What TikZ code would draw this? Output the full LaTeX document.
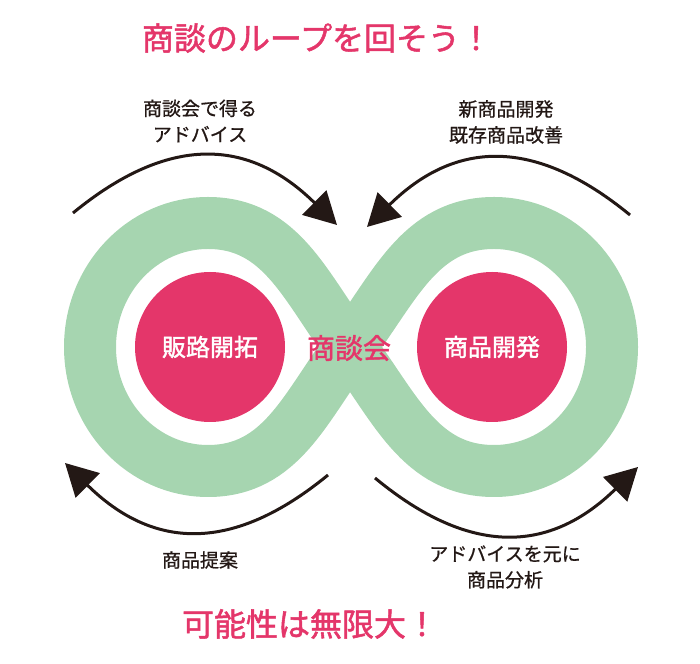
\documentclass[tikz,border=0pt]{standalone}
\usepackage{fontspec}
\setmainfont{Noto Sans CJK JP}
\newfontfamily\jpmed{Noto Sans CJK JP}[BoldFont={Noto Sans CJK JP}, BoldFeatures={FakeBold=1.6}]
\newfontfamily\jplab{Noto Sans CJK JP}[BoldFont={Noto Sans CJK JP}, BoldFeatures={FakeBold=0.8}]
\usetikzlibrary{arrows.meta}
\definecolor{loopgreen}{HTML}{A6D5B0}
\definecolor{hotpink}{HTML}{E4366A}
\definecolor{ink}{HTML}{231815}
\begin{document}
\begin{tikzpicture}[x=1pt,y=1pt,
  hub/.style={circle, fill=hotpink, minimum size=150pt, inner sep=0pt, text=white, font=\jpmed\bfseries\fontsize{24}{28}\selectfont},
  lbl/.style={text=ink, align=center, font=\jplab\bfseries\fontsize{19}{26}\selectfont},
  headline/.style={text=hotpink, font=\jpmed\bfseries\fontsize{32}{36}\selectfont},
  cyc/.style={draw=ink, line width=3pt, -{Triangle[length=32pt,width=34pt]}},
  band/.style={draw=loopgreen, line width=52pt, line join=round}
]
\useasboundingbox (0,0) rectangle (700,663);
% infinity loop
\coordinate (C) at (350,316);
\coordinate (topL) at (208,440);
\coordinate (topR) at (494,440);
\draw[band] (C) to[out=127,in=0] (topL)
  arc[start angle=90, end angle=270, x radius=118, y radius=124]
  to[out=0,in=233] (C)
  to[out=53,in=180] (topR)
  arc[start angle=90, end angle=-90, x radius=118, y radius=124]
  to[out=180,in=-53] (C) -- cycle;
% hubs
\node[hub] (sales) at (210,316) {販路開拓};
\node[hub] (dev) at (492,316) {商品開発};
\node[text=hotpink, font=\jpmed\bfseries\fontsize{28}{32}\selectfont] (meet) at (349,315) {商談会};
% titles
\node[headline] (title) at (317,625) {商談のループを回そう！};
\node[headline] (foot) at (310,39) {可能性は無限大！};
% labels
\node[lbl] (ltl) at (200,542) {商談会で得る\\アドバイス};
\node[lbl] (ltr) at (506,541) {新商品開発\\既存商品改善};
\node[lbl] (lbl1) at (200,103) {商品提案};
\node[lbl] (lbr) at (505,96) {アドバイスを元に\\商品分析};
% arrows
\coordinate (tlS) at (73,450);
\coordinate (tlE) at (337,438);
\coordinate (trS) at (630,448);
\coordinate (trE) at (367,436);
\coordinate (blS) at (328,188);
\coordinate (blE) at (65,200);
\coordinate (brS) at (375,185);
\coordinate (brE) at (638,196);
\draw[cyc] (tlS) to[bend left=42, looseness=1.2] (tlE);
\draw[cyc] (trS) to[bend right=42, looseness=1.2] (trE);
\draw[cyc] (blS) to[bend left=42, looseness=1.2] (blE);
\draw[cyc] (brS) to[bend right=42, looseness=1.2] (brE);
\end{tikzpicture}
\end{document}
